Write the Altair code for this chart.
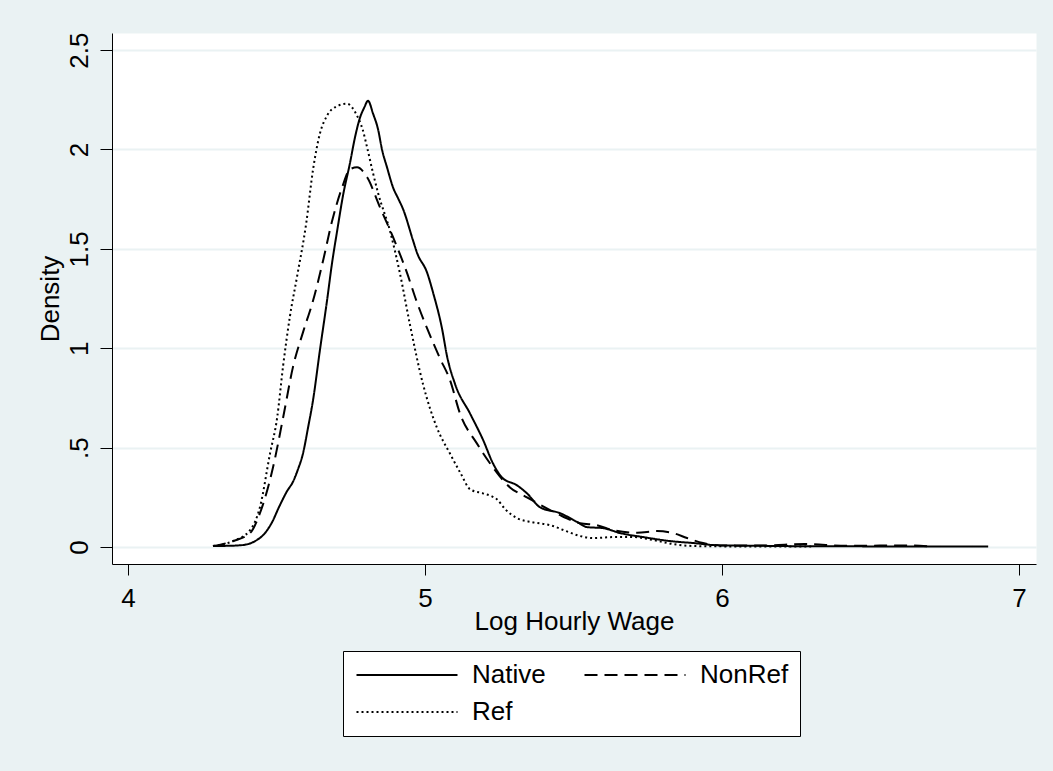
import altair as alt
import pandas as pd

# Kernel density estimates of log hourly wage, by group
native_x = [4.286, 4.337, 4.387, 4.428, 4.461, 4.485, 4.508, 4.535, 4.556, 4.572,
            4.589, 4.606, 4.623, 4.646, 4.670, 4.687, 4.704, 4.724, 4.747, 4.764,
            4.781, 4.795, 4.808, 4.825, 4.842, 4.855, 4.872, 4.892, 4.909, 4.926,
            4.960, 4.973, 5.007, 5.027, 5.057, 5.074, 5.101, 5.152, 5.195, 5.229,
            5.259, 5.310, 5.343, 5.387, 5.455, 5.512, 5.545, 5.599, 5.657, 5.734,
            5.825, 5.902, 5.993, 6.128, 6.263, 6.532, 6.896]
native_y = [0.005, 0.006, 0.010, 0.030, 0.070, 0.125, 0.200, 0.280, 0.330, 0.390,
            0.470, 0.600, 0.740, 0.990, 1.240, 1.430, 1.590, 1.770, 1.930, 2.060,
            2.160, 2.210, 2.245, 2.180, 2.100, 2.000, 1.910, 1.810, 1.755, 1.700,
            1.540, 1.480, 1.380, 1.280, 1.100, 0.960, 0.820, 0.670, 0.540, 0.420,
            0.350, 0.310, 0.270, 0.200, 0.170, 0.126, 0.100, 0.095, 0.070, 0.050,
            0.030, 0.020, 0.008, 0.006, 0.004, 0.003, 0.002]

nonref_x = [4.286, 4.354, 4.411, 4.444, 4.488, 4.522, 4.556, 4.589, 4.623, 4.655,
            4.687, 4.721, 4.747, 4.771, 4.805, 4.848, 4.892, 4.939, 4.973, 5.007,
            5.050, 5.084, 5.118, 5.175, 5.229, 5.286, 5.343, 5.421, 5.455, 5.522,
            5.579, 5.633, 5.714, 5.781, 5.835, 5.882, 5.936, 6.017, 6.150, 6.279,
            6.420, 6.643, 6.700]
nonref_y = [0.005, 0.030, 0.070, 0.170, 0.400, 0.650, 0.910, 1.080, 1.240, 1.430,
            1.640, 1.810, 1.900, 1.910, 1.860, 1.710, 1.560, 1.380, 1.230, 1.100,
            0.950, 0.840, 0.670, 0.520, 0.400, 0.300, 0.250, 0.186, 0.160, 0.120,
            0.110, 0.085, 0.072, 0.080, 0.070, 0.045, 0.020, 0.007, 0.008, 0.015,
            0.006, 0.008, 0.003]

ref_x = [4.286, 4.354, 4.411, 4.444, 4.478, 4.502, 4.522, 4.545, 4.569, 4.600,
         4.623, 4.646, 4.670, 4.700, 4.737, 4.771, 4.790, 4.805, 4.825, 4.842,
         4.882, 4.915, 4.949, 4.993, 5.040, 5.084, 5.120, 5.152, 5.195, 5.225,
         5.242, 5.270, 5.310, 5.360, 5.421, 5.475, 5.522, 5.566, 5.633, 5.700,
         5.768, 5.835, 5.902, 6.020, 6.300]
ref_y = [0.005, 0.030, 0.085, 0.200, 0.470, 0.650, 0.910, 1.160, 1.360, 1.630,
         1.900, 2.080, 2.170, 2.215, 2.230, 2.170, 2.100, 2.010, 1.880, 1.780,
         1.590, 1.380, 1.120, 0.820, 0.600, 0.470, 0.370, 0.290, 0.270, 0.255,
         0.240, 0.190, 0.145, 0.125, 0.110, 0.080, 0.055, 0.045, 0.050, 0.050,
         0.035, 0.015, 0.005, 0.003, 0.002]

groups = ["Native", "NonRef", "Ref"]
dash_patterns = [[1, 0], [13, 7], [2, 3]]

x_ticks = [4, 5, 6, 7]
y_ticks = [0, 0.5, 1, 1.5, 2, 2.5]
y_tick_labels = ["0", ".5", "1", "1.5", "2", "2.5"]

frames = []
for name, xs, ys in [("Native", native_x, native_y),
                     ("NonRef", nonref_x, nonref_y),
                     ("Ref", ref_x, ref_y)]:
    frames.append(pd.DataFrame({"wage": xs, "density": ys, "group": name}))
df = pd.concat(frames, ignore_index=True)

y_label_expr = " : ".join(
    f"datum.value == {v} ? '{lab}'" for v, lab in zip(y_ticks, y_tick_labels)
) + " : ''"

FONT = "Liberation Sans"
BG = "#EAF2F3"

# Wide horizontal stroke used as the legend key (path spans -5..5 in symbol units)
KEY_PATH = "M-5,0H5"

chart = (
    alt.Chart(df)
    .mark_line(strokeWidth=2, color="black", interpolate="monotone")
    .encode(
        x=alt.X(
            "wage:Q",
            scale=alt.Scale(domain=[3.946, 7.057], nice=False, zero=False),
            axis=alt.Axis(
                title="Log Hourly Wage",
                values=x_ticks,
                format="d",
                grid=False,
                tickSize=11,
                labelPadding=10,
                titlePadding=-3,
            ),
        ),
        y=alt.Y(
            "density:Q",
            scale=alt.Scale(domain=[-0.0855, 2.586], nice=False, zero=False),
            axis=alt.Axis(
                title="Density",
                values=y_ticks,
                labelExpr=y_label_expr,
                labelAngle=270,
                labelAlign="center",
                labelBaseline="alphabetic",
                tickSize=12,
                labelPadding=13,
                titlePadding=3,
                grid=True,
                gridColor=BG,
                gridWidth=2,
            ),
        ),
        strokeDash=alt.StrokeDash(
            "group:N",
            scale=alt.Scale(domain=groups, range=dash_patterns),
            legend=alt.Legend(
                title=None,
                orient="none",
                legendX=231,
                legendY=618,
                direction="horizontal",
                columns=2,
                symbolType=KEY_PATH,
                symbolSize=408,
                symbolOffset=40,
                symbolStrokeWidth=2,
                symbolStrokeColor="black",
                labelFontSize=26,
                labelFont=FONT,
                labelColor="black",
                labelOffset=52,
                columnPadding=34,
                rowPadding=11,
                padding=11,
                strokeColor="black",
                fillColor="white",
            ),
        ),
        detail="group:N",
    )
    .properties(
        width=924,
        height=531,
        autosize=alt.AutoSizeParams(type="none"),
        padding={"left": 112, "top": 33, "right": 17, "bottom": 207},
        background=BG,
    )
    .configure_view(fill="white", stroke="transparent")
    .configure_axis(
        labelFont=FONT,
        titleFont=FONT,
        labelFontSize=26,
        titleFontSize=26,
        titleFontWeight="normal",
        labelColor="black",
        titleColor="black",
        domainColor="black",
        tickColor="black",
        domainWidth=1,
        tickWidth=1,
    )
)

chart.save("out.html", embed_options={"renderer": "svg", "actions": False})
